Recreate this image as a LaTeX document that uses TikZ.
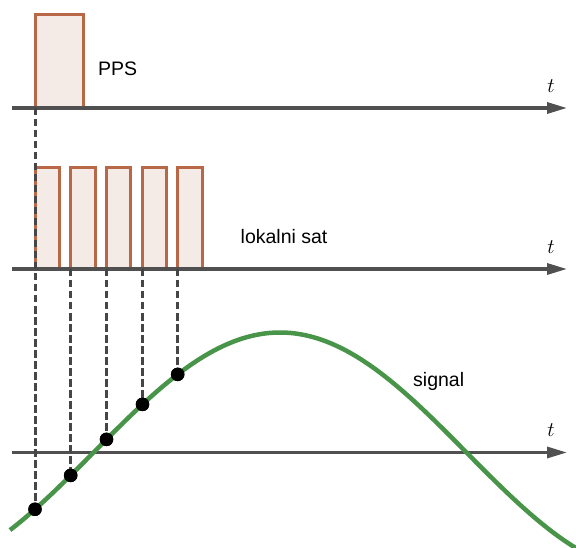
\documentclass[tikz,border=0pt]{standalone}
\usepackage{fontspec}
\setsansfont{Liberation Sans}
\usetikzlibrary{arrows.meta}
\definecolor{axisgray}{RGB}{80,80,80}
\definecolor{dashgray}{RGB}{70,70,70}
\definecolor{pulseedge}{RGB}{184,104,70}
\definecolor{pulsefill}{RGB}{245,235,230}
\definecolor{siggreen}{RGB}{72,148,72}
\tikzset{
  axisline/.style={draw=axisgray, line width=3.2pt, -{Triangle[length=20pt,width=11pt]}},
  pulse/.style={draw=pulseedge, fill=pulsefill, line width=3pt},
  guide/.style={draw=dashgray, line width=3pt, dash pattern=on 7.5pt off 3.5pt},
  sampledot/.style={circle, fill=black, inner sep=0pt, minimum size=13.5pt},
  lbl/.style={font=\sffamily\fontsize{19.5}{22}\selectfont, text=black, inner sep=0pt, anchor=base west},
  tlbl/.style={font=\fontsize{22}{24}\selectfont},
}
\newcommand{\sigf}[1]{452.5-120*sin(((#1)-93.5)/373*180)}
\begin{document}
\begin{tikzpicture}[x=1pt,y=-1pt]
\useasboundingbox (0,0) rectangle (576,548);
% pulses
\draw[pulse] (35,108) rectangle (83,15);
\foreach \s in {35,70.7,106.3,142,177.5}{
  \draw[pulse] (\s,269) rectangle ({\s+24.5},168);
}
% axes
\coordinate (a1s) at (12,108); \coordinate (a1e) at (567,108);
\coordinate (a2s) at (12,269); \coordinate (a2e) at (567,269);
\coordinate (a3s) at (12,452.5); \coordinate (a3e) at (567,452.5);
\draw[axisline] (a1s) -- (a1e);
\draw[axisline] (a2s) -- (a2e);
\draw[axisline] (a3s) -- (a3e);
% signal
\draw[siggreen, line width=4.5pt] plot[domain=10:578, samples=120, smooth] (\x, {\sigf{\x}});
% dots
\node[sampledot] (d1) at (35, {\sigf{35}}) {};
\node[sampledot] (d2) at (70.7, {\sigf{70.7}}) {};
\node[sampledot] (d3) at (106.5, {\sigf{106.5}}) {};
\node[sampledot] (d4) at (142.5, {\sigf{142.5}}) {};
\node[sampledot] (d5) at (177.7, {\sigf{177.7}}) {};
% guides
\coordinate (g1) at (35,108);
\coordinate (g2) at (70.7,269);
\coordinate (g3) at (106.5,269);
\coordinate (g4) at (142.5,269);
\coordinate (g5) at (177.7,269);
\draw[guide] (g1) -- (d1.center);
\draw[guide] (g2) -- (d2.center);
\draw[guide] (g3) -- (d3.center);
\draw[guide] (g4) -- (d4.center);
\draw[guide] (g5) -- (d5.center);
\node[sampledot] at (d1) {};
\node[sampledot] at (d2) {};
\node[sampledot] at (d3) {};
\node[sampledot] at (d4) {};
\node[sampledot] at (d5) {};
% labels
\node[lbl] (pps) at (98,75.3) {PPS};
\node[lbl] (ls) at (240.5,244) {lokalni sat};
\node[lbl] (sg) at (413,386) {signal};
\node[tlbl] (t1) at (551,86) {$t$};
\node[tlbl] (t2) at (551,247) {$t$};
\node[tlbl] (t3) at (551,430) {$t$};
\end{tikzpicture}
\end{document}
